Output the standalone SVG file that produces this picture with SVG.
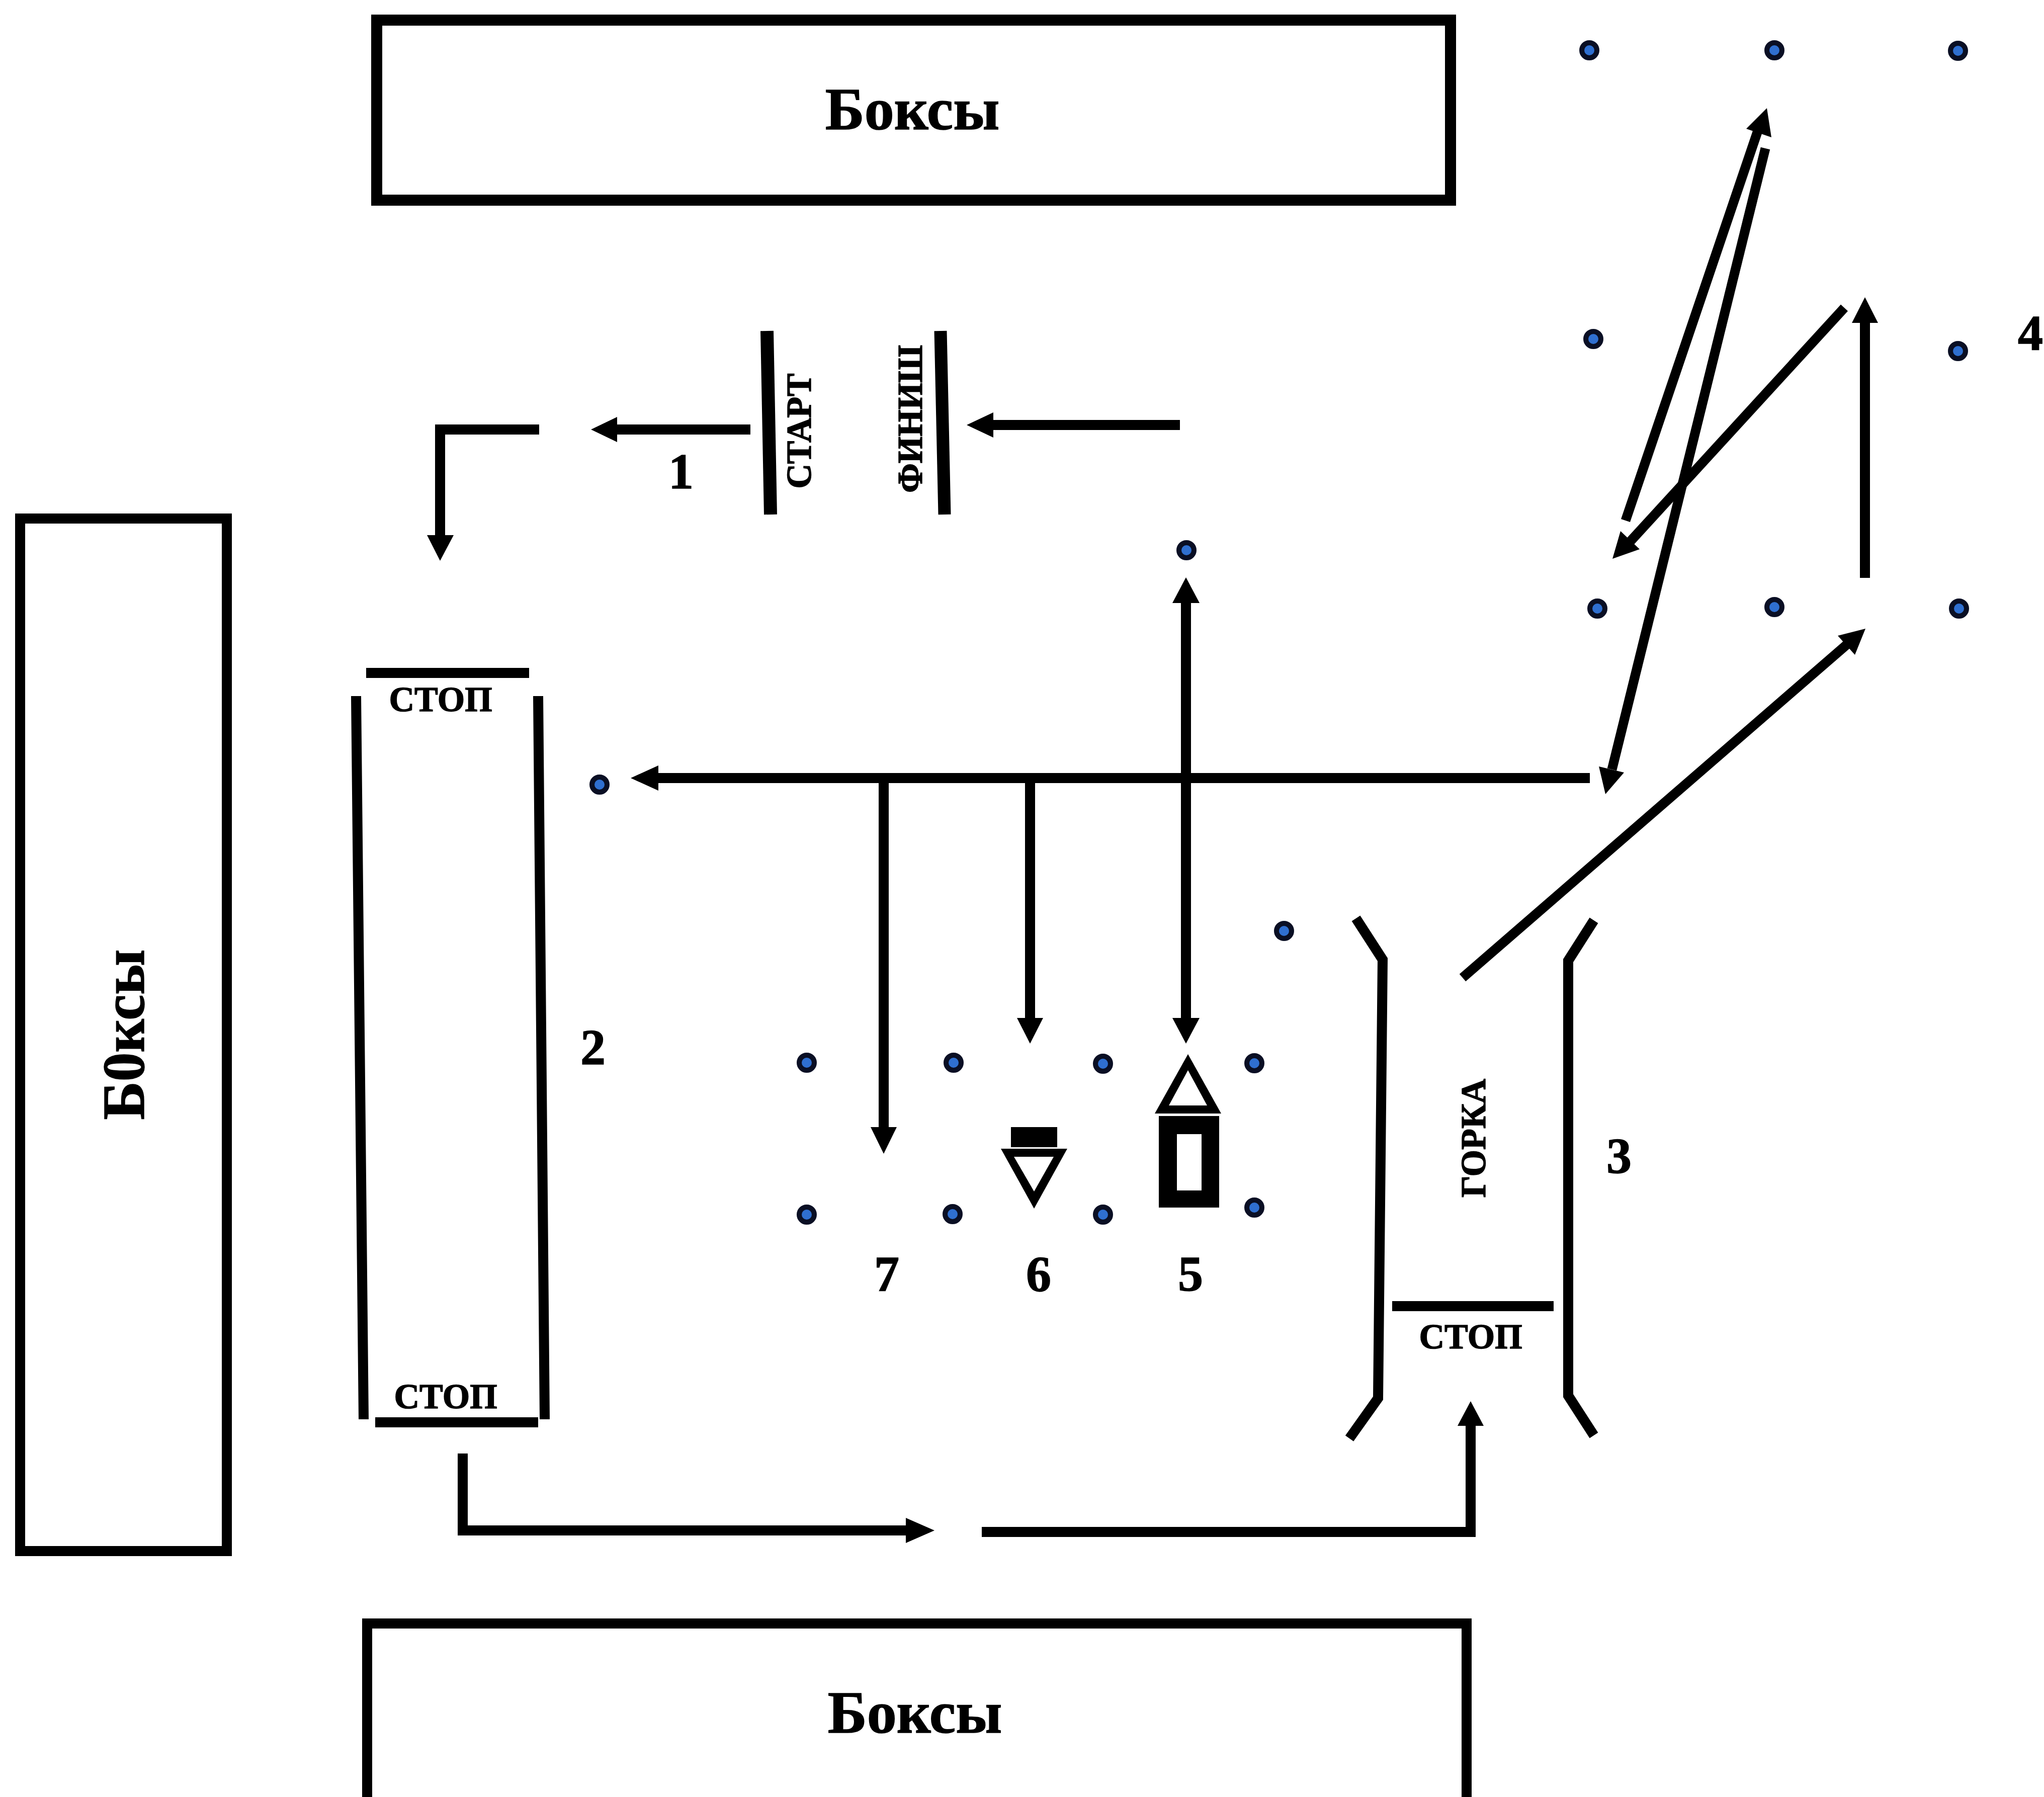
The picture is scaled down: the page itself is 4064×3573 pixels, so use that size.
<svg xmlns="http://www.w3.org/2000/svg" width="4064" height="3573" viewBox="0 0 4064 3573">
<style>
text{font-family:"Liberation Serif","Times New Roman",serif;font-weight:bold;fill:#000;stroke:#000;stroke-width:1.5}
.l{fill:none;stroke:#000;stroke-width:20}
.d{fill:none;stroke:#000;stroke-width:19}
.box{fill:#fff;stroke:#000}
.dot{fill:#2f6fd0;stroke:#0a0f24;stroke-width:10}
.h{fill:#000}
.big{font-size:118px;text-anchor:middle}
.num{font-size:100px;text-anchor:middle}
.sm{font-size:70px;text-anchor:middle}
</style>
<defs><circle id="d" class="dot" r="15"/></defs>
<rect width="4064" height="3573" fill="#fff"/>
<g id="box-top"><rect class="box" stroke-width="22" x="749" y="40" width="2135" height="358"/><text class="big" x="1814" y="257">Боксы</text></g>
<g id="box-left"><rect class="box" stroke-width="20" x="40" y="1031" width="411" height="2053"/><text class="big" transform="translate(286 2057) rotate(-90)" textLength="339" lengthAdjust="spacingAndGlyphs">Б0ксы</text></g>
<g id="box-bottom"><path class="box" stroke-width="20" d="M730 3590V3228H2916V3590"/><text class="big" x="1819" y="3445">Боксы</text></g>
<g id="dots">
<use href="#d" x="3160" y="100"/><use href="#d" x="3528" y="100"/><use href="#d" x="3893" y="101"/>
<use href="#d" x="3168" y="674"/><use href="#d" x="3893" y="698"/>
<use href="#d" x="3176" y="1210"/><use href="#d" x="3528" y="1207"/><use href="#d" x="3895" y="1210"/>
<use href="#d" x="2359" y="1094"/><use href="#d" x="1192" y="1560"/><use href="#d" x="2553" y="1851"/>
<use href="#d" x="1604" y="2113"/><use href="#d" x="1896" y="2113"/><use href="#d" x="2193" y="2115"/><use href="#d" x="2494" y="2114"/>
<use href="#d" x="1604" y="2415"/><use href="#d" x="1894" y="2414"/><use href="#d" x="2193" y="2415"/><use href="#d" x="2494" y="2401"/>
</g>
<g id="start"><path d="M1525 658L1532 1023" fill="none" stroke="#000" stroke-width="26"/><text class="sm" transform="translate(1612 857) rotate(-90)" textLength="229" lengthAdjust="spacingAndGlyphs">СТАРТ</text></g>
<g id="finish"><path d="M1870 658L1878 1023" fill="none" stroke="#000" stroke-width="25"/><text class="sm" transform="translate(1833 833) rotate(-90)" textLength="294" lengthAdjust="spacingAndGlyphs">ФИНИШ</text></g>
<g id="track-2">
<path class="l" d="M708 1384L723 2822M1070 1384L1083 2822M728 1338H1052M746 2828H1070"/>
<text class="sm" x="876" y="1414">СТОП</text><text class="sm" x="886" y="2800">СТОП</text>
</g>
<g id="hill-3">
<path class="l" d="M2696 1826L2749 1908L2740 2780L2683 2860M3169 1830L3118 1910V2775L3169 2854M2768 2597H3089"/>
<text class="sm" x="2924" y="2681">СТОП</text>
<text class="sm" transform="translate(2953 2263) rotate(-90)" textLength="236" lengthAdjust="spacingAndGlyphs">ГОРКА</text>
</g>
<g id="figure-5">
<path fill-rule="evenodd" d="M2362 2096L2428 2214H2296ZM2362 2128L2324 2198H2400Z"/>
<path fill-rule="evenodd" d="M2304 2219H2424V2401H2304ZM2340 2255V2367H2389V2255Z"/>
</g>
<g id="figure-6">
<rect x="2010" y="2241" width="92" height="40"/>
<path fill-rule="evenodd" d="M1990 2284H2122L2056 2403ZM2016 2300L2056 2369L2095 2300Z"/>
</g>
<g id="labels">
<text class="num" x="1354" y="971">1</text><text class="num" x="1179" y="2115">2</text><text class="num" x="3219" y="2331">3</text>
<text class="num" x="4037" y="695">4</text><text class="num" x="2367" y="2566">5</text><text class="num" x="2065" y="2566">6</text><text class="num" x="1763" y="2566">7</text>
</g>
<g id="connectors">
<path class="l" d="M1492 854H1215"/><path class="h" d="M1175 854L1227 829V879Z"/>
<path class="l" d="M2346 845H1960"/><path class="h" d="M1922 845L1975 820V870Z"/>
<path class="l" d="M1072 854H875V1070"/><path class="h" d="M875 1115L849 1064H902Z"/>
<path class="l" d="M3161 1547H1300"/><path class="h" d="M1254 1547L1309 1522V1572Z"/>
<path class="l" d="M1757 1547V2245"/><path class="h" d="M1757 2294L1731 2241H1783Z"/>
<path class="l" d="M2048 1547V2030"/><path class="h" d="M2048 2075L2022 2024H2074Z"/>
<path class="l" d="M2358 1190V2030"/><path class="h" d="M2358 1148L2331 1199H2385Z"/><path class="h" d="M2358 2075L2331 2024H2385Z"/>
<path class="l" d="M920 2890V3043H1810"/><path class="h" d="M1858 3043L1801 3018V3068Z"/>
<path class="l" d="M1952 3046H2924V2825"/><path class="h" d="M2924 2786L2898 2835H2950Z"/>
<path class="d" d="M2908 1944L3675 1279"/><path class="h" d="M3709 1250L3654 1264L3688 1302Z"/>
<path class="l" d="M3708 1149V635"/><path class="h" d="M3708 591L3682 642H3734Z"/>
<path class="d" d="M3667 612L3240 1078"/><path class="h" d="M3206 1111L3260 1092L3222 1056Z"/>
<path class="d" d="M3232 1035L3495 260"/><path class="h" d="M3513 215L3472 256L3522 273Z"/>
<path class="d" d="M3510 295L3205 1530"/><path class="h" d="M3192 1579L3179 1524L3229 1536Z"/>
</g>
</svg>
